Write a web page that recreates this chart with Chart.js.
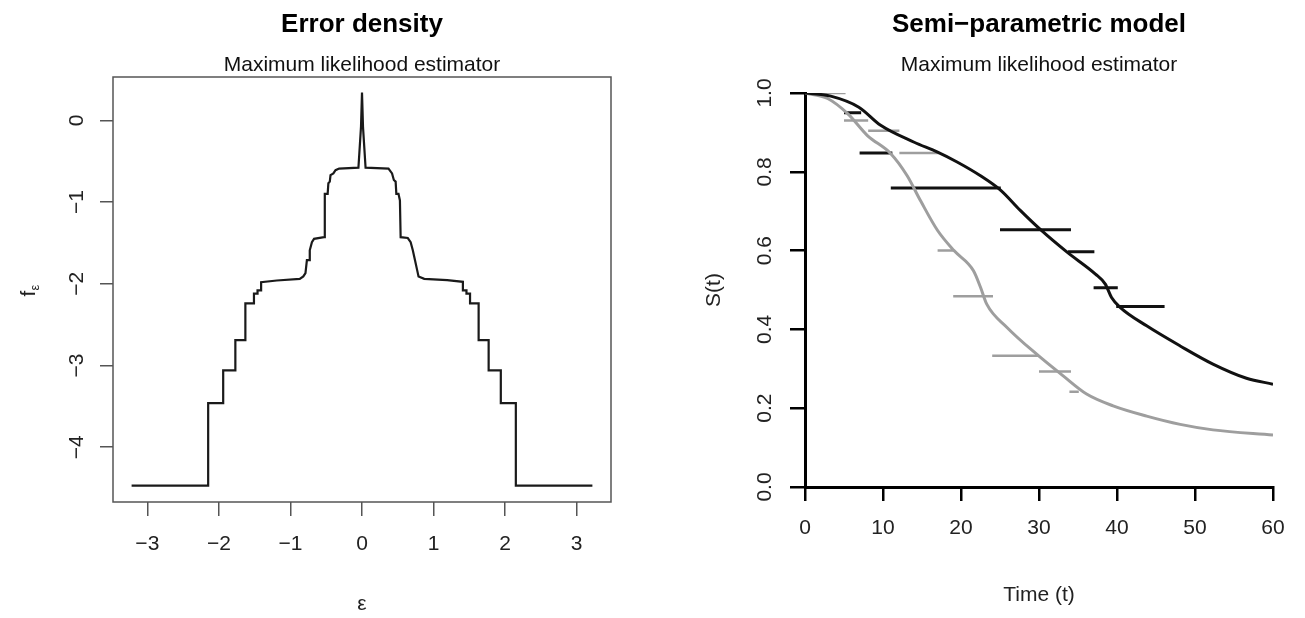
<!DOCTYPE html>
<html>
<head>
<meta charset="utf-8">
<script src="https://cdn.jsdelivr.net/npm/chart.js@4"></script>
<style>
  html, body { margin: 0; padding: 0; background: #fff; }
  .panel { position: absolute; top: 0; height: 618px; }
</style>
</head>
<body>
<div class="panel" style="left:0;width:652px"><canvas id="errChart" width="652" height="618"></canvas></div>
<div class="panel" style="left:652px;width:653px"><canvas id="survChart" width="653" height="618"></canvas></div>
<script>
const FONT = '"Liberation Sans", Arial, Helvetica, sans-serif';

// error density (log scale), step estimate
const errX = [-3.22, -2.15, -2.15, -1.94, -1.94, -1.77, -1.77, -1.63, -1.63, -1.51, -1.51, -1.46, -1.46, -1.41, -1.41,
  -1.19, -0.87, -0.82, -0.79, -0.77, -0.73, -0.73, -0.70, -0.67, -0.53, -0.52, -0.48, -0.47, -0.45, -0.44, -0.40, -0.37,
  -0.32, -0.05, -0.014, 0, 0.014, 0.05, 0.37, 0.42, 0.445, 0.47, 0.48, 0.51, 0.53, 0.54, 0.64, 0.68, 0.71, 0.74, 0.77,
  0.79, 0.87, 1.19, 1.41, 1.41, 1.46, 1.46, 1.51, 1.51, 1.63, 1.63, 1.77, 1.77, 1.94, 1.94, 2.15, 2.15, 3.22];
const errY = [-4.47, -4.47, -3.46, -3.46, -3.06, -3.06, -2.69, -2.69, -2.24, -2.24, -2.12, -2.12, -2.08, -2.08, -1.98,
  -1.96, -1.94, -1.91, -1.87, -1.71, -1.71, -1.59, -1.49, -1.45, -1.43, -0.90, -0.90, -0.77, -0.75, -0.67, -0.65, -0.61,
  -0.59, -0.58, -0.08, 0.34, -0.08, -0.58, -0.59, -0.65, -0.73, -0.75, -0.90, -0.90, -0.98, -1.43, -1.44, -1.49, -1.59, -1.71, -1.83,
  -1.91, -1.94, -1.955, -1.976, -2.08, -2.08, -2.12, -2.12, -2.24, -2.24, -2.69, -2.69, -3.06, -3.06, -3.46, -3.46, -4.47, -4.47];
const errXTicks = [-3, -2, -1, 0, 1, 2, 3];
const errYTicks = [-4, -3, -2, -1, 0];

// survival curves
const blackT = [0, 3.3, 6.9, 9.7, 14.0, 17.0, 19.5, 22.5, 25.1, 27.6, 30.2, 33.6, 37.2, 38.5, 39.3, 40.4, 43.8, 48.1, 52.3, 56.6, 60];
const blackS = [1.0, 0.992, 0.964, 0.918, 0.875, 0.85, 0.825, 0.79, 0.753, 0.702, 0.653, 0.596, 0.541, 0.515, 0.481, 0.456, 0.409, 0.358, 0.312, 0.276, 0.261];
const grayT = [0, 2.9, 5.5, 8.0, 11.0, 13.1, 14.8, 17.0, 19.1, 21.6, 22.5, 23.3, 25.9, 29.7, 33.1, 36.1, 39.5, 43.8, 48.1, 52.3, 60];
const grayS = [1.0, 0.986, 0.947, 0.892, 0.846, 0.79, 0.727, 0.651, 0.6, 0.549, 0.507, 0.464, 0.405, 0.337, 0.282, 0.236, 0.206, 0.18, 0.159, 0.145, 0.132];

// horizontal interval segments
const blackSegFrom = [5.0, 7.0, 11.0, 25.0, 33.7, 37.0, 39.9];
const blackSegTo = [7.2, 11.2, 25.1, 34.1, 37.1, 40.1, 46.1];
const blackSegS = [0.95, 0.848, 0.759, 0.653, 0.597, 0.506, 0.458];
const graySegFrom = [0.8, 5.0, 8.1, 12.1, 17.0, 19.0, 24.0, 30.0, 33.9];
const graySegTo = [5.2, 8.1, 12.1, 17.2, 19.1, 24.1, 30.0, 34.1, 35.1];
const graySegS = [1.0, 0.93, 0.904, 0.848, 0.6, 0.484, 0.333, 0.293, 0.242];

const timeTicks = [0, 10, 20, 30, 40, 50, 60];
const survTicks = [0, 0.2, 0.4, 0.6, 0.8, 1.0];

const minus = v => v < 0 ? '\u2212' + Math.abs(v) : String(v);
const pts = (xs, ys) => xs.map((x, i) => ({x, y: ys[i]}));
function segments(from, to, s) {
    const out = [];
    s.forEach((v, i) => out.push({x: from[i], y: v}, {x: to[i], y: v}, {x: to[i], y: null}));
    return out;
}
const fixTicks = list => s => { s.ticks = list.map(v => ({value: v})); };

// titles, box and the f_eps label
const rTitles = {
    id: 'rTitles',
    afterDraw(chart, args, opts) {
        const {ctx, chartArea: a} = chart;
        const cx = (a.left + a.right) / 2;
        ctx.save();
        ctx.fillStyle = '#000';
        ctx.textAlign = 'center';
        ctx.textBaseline = 'alphabetic';
        ctx.font = `bold 26px ${FONT}`;
        ctx.fillText(opts.main, cx, 32);
        ctx.font = `21px ${FONT}`;
        ctx.fillStyle = '#111';
        ctx.fillText(opts.sub, cx, 71);
        if (opts.box) {
            ctx.strokeStyle = '#555';
            ctx.lineWidth = 1.5;
            ctx.strokeRect(a.left, a.top, a.right - a.left, a.bottom - a.top);
        }
        if (opts.ylab) {
            ctx.translate(27, (a.top + a.bottom) / 2);
            ctx.rotate(-Math.PI / 2);
            ctx.textAlign = 'left';
            ctx.fillStyle = '#222';
            ctx.font = `21px ${FONT}`;
            ctx.fillText('f', -7, 7.5);
            ctx.font = `13px ${FONT}`;
            ctx.fillText('ε', -1, 11.5);
        }
        ctx.restore();
    }
};

const tickFont = {family: FONT, size: 21};

new Chart(document.getElementById('errChart'), {
    type: 'line',
    data: {
        datasets: [{data: pts(errX, errY), borderColor: '#1a1a1a', borderWidth: 2.2, pointRadius: 0, tension: 0, fill: false}]
    },
    options: {
        responsive: false, animation: false,
        layout: {padding: {top: 77, right: 41, bottom: 0, left: 0}},
        plugins: {
            legend: {display: false}, tooltip: {enabled: false},
            rTitles: {main: 'Error density', sub: 'Maximum likelihood estimator', box: true, ylab: true}
        },
        scales: {
            x: {
                type: 'linear', min: -3.48, max: 3.48,
                afterBuildTicks: fixTicks(errXTicks),
                afterFit: s => { s.height = 116; },
                grid: {drawOnChartArea: false, tickLength: 14, color: '#555', lineWidth: 1.5},
                border: {display: false},
                ticks: {font: tickFont, color: '#222', padding: 16, maxRotation: 0, autoSkip: false, callback: minus},
                title: {display: true, text: 'ε', font: tickFont, color: '#222', padding: {top: 0, bottom: 1}}
            },
            y: {
                type: 'linear', min: -4.67, max: 0.53,
                afterBuildTicks: fixTicks(errYTicks),
                afterFit: s => { s.width = 113; },
                grid: {drawOnChartArea: false, tickLength: 13, color: '#555', lineWidth: 1.5},
                border: {display: false},
                ticks: {font: tickFont, color: '#222', padding: 11, minRotation: 90, maxRotation: 90, crossAlign: 'center', autoSkip: false, callback: minus}
            }
        }
    },
    plugins: [rTitles]
});

new Chart(document.getElementById('survChart'), {
    type: 'line',
    data: {
        datasets: [
            {data: pts(blackT, blackS), borderColor: '#111', borderWidth: 3, pointRadius: 0, cubicInterpolationMode: 'monotone'},
            {data: pts(grayT, grayS), borderColor: '#9e9e9e', borderWidth: 3, pointRadius: 0, cubicInterpolationMode: 'monotone'},
            {data: segments(blackSegFrom, blackSegTo, blackSegS), borderColor: '#111', borderWidth: 3, pointRadius: 0, spanGaps: false},
            {data: segments(graySegFrom, graySegTo, graySegS), borderColor: '#9e9e9e', borderWidth: 2.5, pointRadius: 0, spanGaps: false}
        ]
    },
    options: {
        responsive: false, animation: false,
        layout: {padding: {top: 93, right: 32, bottom: 0, left: 0}},
        plugins: {
            legend: {display: false}, tooltip: {enabled: false},
            rTitles: {main: 'Semi\u2212parametric model', sub: 'Maximum likelihood estimator'}
        },
        scales: {
            x: {
                type: 'linear', min: 0, max: 60,
                afterBuildTicks: fixTicks(timeTicks),
                afterFit: s => { s.height = 131; },
                grid: {drawOnChartArea: false, tickLength: 14, color: '#000', lineWidth: 2.5},
                border: {display: true, color: '#000', width: 3},
                ticks: {font: tickFont, color: '#222', padding: 15, maxRotation: 0, autoSkip: false, callback: v => String(v)},
                title: {display: true, text: 'Time (t)', font: tickFont, color: '#222', padding: {top: 0, bottom: 10}}
            },
            y: {
                type: 'linear', min: 0, max: 1,
                afterBuildTicks: fixTicks(survTicks),
                afterFit: s => { s.width = 153; },
                grid: {drawOnChartArea: false, tickLength: 15, color: '#000', lineWidth: 2.5},
                border: {display: true, color: '#000', width: 3},
                ticks: {font: tickFont, color: '#222', padding: 10, minRotation: 90, maxRotation: 90, crossAlign: 'center', autoSkip: false, callback: v => v.toFixed(1)},
                title: {display: true, text: 'S(t)', font: tickFont, color: '#222', padding: {top: 50, bottom: 0}}
            }
        }
    },
    plugins: [rTitles]
});
</script>
</body>
</html>
